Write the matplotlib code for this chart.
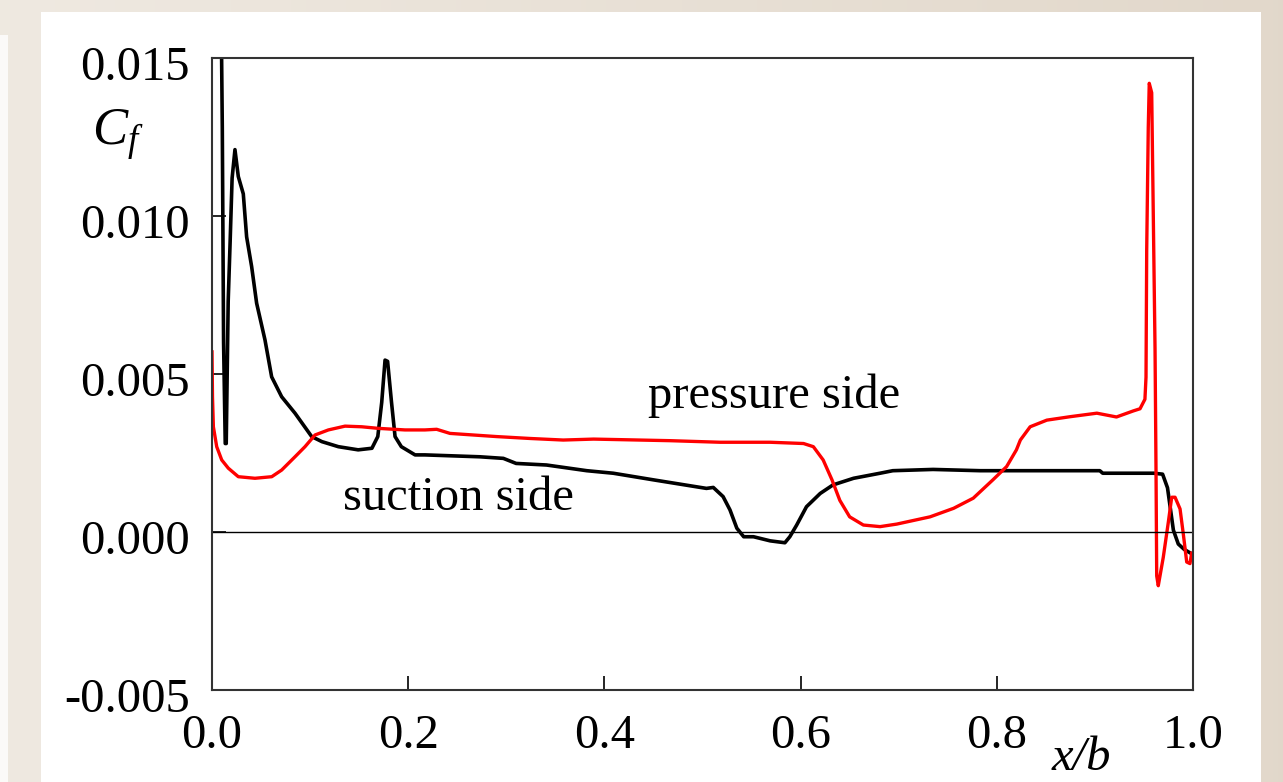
import numpy as np
import matplotlib
matplotlib.use('Agg')
import matplotlib.pyplot as plt
import matplotlib.transforms as mtransforms
from matplotlib.patches import Rectangle

plt.rcParams['font.family'] = ['Liberation Serif', 'DejaVu Serif']
plt.rcParams['mathtext.fontset'] = 'custom'
plt.rcParams['mathtext.it'] = 'Liberation Serif:italic'
plt.rcParams['mathtext.rm'] = 'Liberation Serif'

# suction side (black)
x_suction = [0.009, 0.0105, 0.0118, 0.0135, 0.0145, 0.0165, 0.0185, 0.0205, 0.0234, 0.0268,
             0.0319, 0.0353, 0.0404, 0.0455, 0.054, 0.0608, 0.071, 0.0846, 0.1016, 0.112,
             0.1288, 0.149, 0.163, 0.169, 0.173, 0.1764, 0.179, 0.183, 0.1866, 0.193,
             0.207, 0.217, 0.273, 0.297, 0.31, 0.341, 0.382, 0.409, 0.45, 0.504,
             0.511, 0.521, 0.528, 0.535, 0.542, 0.552, 0.569, 0.584, 0.589, 0.596,
             0.606, 0.62, 0.633, 0.654, 0.681, 0.694, 0.735, 0.783, 0.905, 0.908,
             0.96, 0.969, 0.974, 0.977, 0.98, 0.985, 0.991, 0.997]
cf_suction = [0.0175, 0.0128, 0.0060, 0.0028, 0.0028, 0.0073, 0.0092, 0.0112, 0.0121, 0.01125,
              0.0107, 0.00934, 0.0084, 0.00724, 0.00608, 0.00491, 0.00428, 0.00376, 0.00302, 0.00286,
              0.0027, 0.0026, 0.00265, 0.00302, 0.0041, 0.00544, 0.0054, 0.0041, 0.00302, 0.0027,
              0.00244, 0.00244, 0.00238, 0.00233, 0.00217, 0.00212, 0.00194, 0.00186, 0.00165, 0.00138,
              0.00141, 0.00112, 0.0007, 0.00012, -0.00015, -0.00015, -0.00028, -0.00034, -0.00015, 0.00022,
              0.0008, 0.00122, 0.00149, 0.0017, 0.00186, 0.00194, 0.00198, 0.00194, 0.00194, 0.00186,
              0.00186, 0.00183, 0.0014, 0.00073, 0.00006, -0.00038, -0.00055, -0.00066]

# pressure side (red)
x_pressure = [0.0, 0.0005, 0.0014, 0.0048, 0.0099, 0.0166, 0.0268, 0.0438, 0.0609, 0.071,
              0.0846, 0.0948, 0.105, 0.1186, 0.1356, 0.1526, 0.1695, 0.1967, 0.217, 0.229,
              0.2426, 0.29, 0.324, 0.358, 0.389, 0.467, 0.518, 0.569, 0.603, 0.613,
              0.623, 0.632, 0.64, 0.65, 0.664, 0.681, 0.698, 0.732, 0.756, 0.776,
              0.796, 0.81, 0.82, 0.824, 0.834, 0.851, 0.875, 0.902, 0.922, 0.939,
              0.946, 0.951, 0.9521, 0.9528, 0.9544, 0.9554, 0.9579, 0.9589, 0.9613, 0.9623,
              0.963, 0.9646, 0.9697, 0.9748, 0.9783, 0.9817, 0.9868, 0.9901, 0.9936, 0.9969,
              0.9986]
cf_pressure = [0.0057, 0.00428, 0.00333, 0.0027, 0.00228, 0.00202, 0.00175, 0.0017, 0.00175, 0.00196,
               0.00238, 0.0027, 0.00307, 0.00323, 0.00335, 0.00333, 0.00328, 0.00323, 0.00323, 0.00325,
               0.00312, 0.00302, 0.00296, 0.00291, 0.00294, 0.00289, 0.00284, 0.00284, 0.0028, 0.0027,
               0.00228, 0.00165, 0.001, 0.00048, 0.00022, 0.00017, 0.00025, 0.00048, 0.00075, 0.00107,
               0.00165, 0.00207, 0.0026, 0.00291, 0.00333, 0.00354, 0.00365, 0.00376, 0.00364, 0.00383,
               0.0039, 0.0042, 0.0049, 0.0089, 0.0128, 0.0142, 0.0139, 0.0115, 0.0058, 0.00194,
               -0.00139, -0.0017, -0.0008, 0.0003, 0.0011, 0.0011, 0.00073, -0.00006, -0.00095, -0.001,
               -0.00067]

x_ticks = [0.0, 0.2, 0.4, 0.6, 0.8, 1.0]
y_ticks = [-0.005, 0.0, 0.005, 0.010, 0.015]

W, H = 1283, 782
fig = plt.figure(figsize=(W / 100, H / 100), dpi=100)

# slide background: beige gradient with white panel
bg = fig.add_axes([0, 0, 1, 1], zorder=-10)
grad = np.linspace(0, 1, 256).reshape(1, -1)
c0 = np.array([0.937, 0.914, 0.882])
c1 = np.array([0.886, 0.847, 0.796])
img = c0[None, None, :] * (1 - grad[..., None]) + c1[None, None, :] * grad[..., None]
bg.imshow(img, aspect='auto', extent=[0, W, 0, H])
bg.add_patch(Rectangle((41, 0), 1220, H - 12, facecolor='white', edgecolor='none'))
bg.add_patch(Rectangle((0, 0), 8, H - 35, facecolor='#fbfaf8', edgecolor='none'))
bg.set_xlim(0, W)
bg.set_ylim(0, H)
bg.axis('off')

ax = fig.add_axes([212 / W, 1 - 690 / H, 981 / W, 632 / H])
ax.set_facecolor('white')
ax.plot(x_suction, cf_suction, color='black', lw=2.6)
ax.plot(x_pressure, cf_pressure, color='#ff0000', lw=2.4)
ax.axhline(0, color='black', lw=1.0)

ax.set_xlim(0, 1)
ax.set_ylim(-0.005, 0.015)
ax.set_xticks(x_ticks)
ax.set_xticklabels(['%.1f' % v for v in x_ticks])
ax.set_yticks(y_ticks)
ax.set_yticklabels(['%.3f' % v for v in y_ticks])
ax.tick_params(axis='both', direction='in', length=10, width=1.2, labelsize=35, colors='black')
ax.tick_params(axis='y', pad=16)
ax.tick_params(axis='x', pad=17)
# y labels sit a little below their ticks in the source
off = mtransforms.ScaledTranslation(0, -5 / 100, fig.dpi_scale_trans)
for lbl in ax.get_yticklabels():
    lbl.set_transform(lbl.get_transform() + off)
for s in ax.spines.values():
    s.set_color('#333333')
    s.set_linewidth(1.5)

ax.text(0.1335, 0.0007, 'suction side', fontsize=35, va='baseline', ha='left')
ax.text(0.4444, 0.00392, 'pressure side', fontsize=35, va='baseline', ha='left')

fig.text(92 / W, 1 - 145 / H, r'$C_f$', fontsize=38, va='baseline', ha='left')
fig.text(1052 / W, 1 - 770 / H, 'x/b', fontsize=35, style='italic', va='baseline', ha='left')

fig.savefig('out.png', dpi=100)
